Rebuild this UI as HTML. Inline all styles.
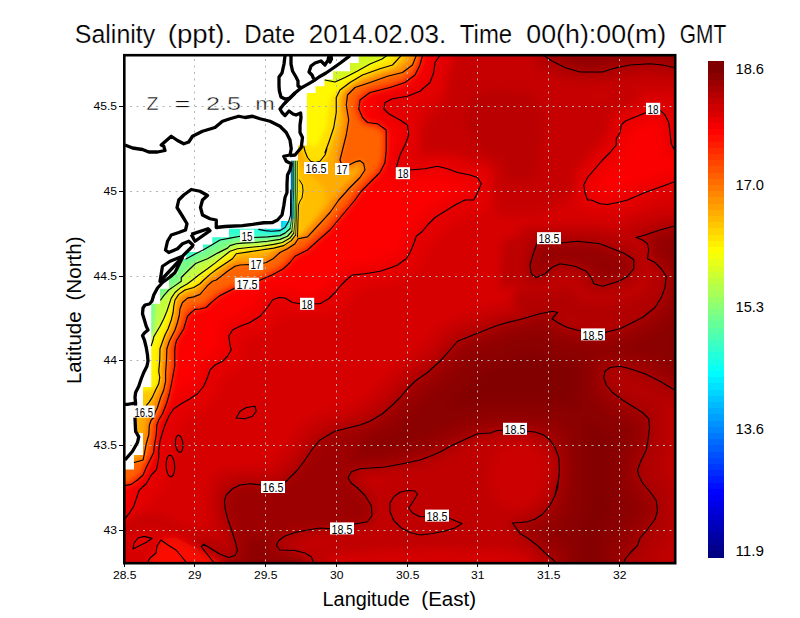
<!DOCTYPE html><html><head><meta charset="utf-8"><title>Salinity</title>
<style>html,body{margin:0;padding:0;background:#fff;overflow:hidden}svg{display:block}text{font-family:"Liberation Sans",sans-serif}</style></head><body>
<svg width="800" height="618" viewBox="0 0 800 618">
<defs>
<clipPath id="plot"><rect x="125.0" y="56.0" width="549.0" height="506.0"/></clipPath>
<filter id="b8" filterUnits="userSpaceOnUse" x="-60" y="-60" width="920" height="760"><feGaussianBlur stdDeviation="8"/></filter>
<filter id="b5" filterUnits="userSpaceOnUse" x="-60" y="-60" width="920" height="760"><feGaussianBlur stdDeviation="5"/></filter>
<filter id="b3" filterUnits="userSpaceOnUse" x="-60" y="-60" width="920" height="760"><feGaussianBlur stdDeviation="3"/></filter>
<filter id="b2" filterUnits="userSpaceOnUse" x="-60" y="-60" width="920" height="760"><feGaussianBlur stdDeviation="2.0"/></filter>
<filter id="b15" filterUnits="userSpaceOnUse" x="-60" y="-60" width="920" height="760"><feGaussianBlur stdDeviation="1.5"/></filter>
<filter id="b1" filterUnits="userSpaceOnUse" x="-60" y="-60" width="920" height="760"><feGaussianBlur stdDeviation="0.8"/></filter>
<filter id="ero3" filterUnits="userSpaceOnUse" x="-60" y="-60" width="920" height="760"><feMorphology operator="erode" radius="3"/></filter>
<filter id="dil3" filterUnits="userSpaceOnUse" x="-60" y="-60" width="920" height="760"><feMorphology operator="dilate" radius="3"/></filter>
<filter id="ero4" filterUnits="userSpaceOnUse" x="-60" y="-60" width="920" height="760"><feMorphology operator="erode" radius="4"/></filter>
<filter id="dil4" filterUnits="userSpaceOnUse" x="-60" y="-60" width="920" height="760"><feMorphology operator="dilate" radius="4"/></filter>
<filter id="ero5" filterUnits="userSpaceOnUse" x="-60" y="-60" width="920" height="760"><feMorphology operator="erode" radius="5"/></filter>
<filter id="dil5" filterUnits="userSpaceOnUse" x="-60" y="-60" width="920" height="760"><feMorphology operator="dilate" radius="5"/></filter>
<filter id="ero6" filterUnits="userSpaceOnUse" x="-60" y="-60" width="920" height="760"><feMorphology operator="erode" radius="6"/></filter>
<filter id="dil6" filterUnits="userSpaceOnUse" x="-60" y="-60" width="920" height="760"><feMorphology operator="dilate" radius="6"/></filter>
<filter id="ero7" filterUnits="userSpaceOnUse" x="-60" y="-60" width="920" height="760"><feMorphology operator="erode" radius="7"/></filter>
<filter id="dil7" filterUnits="userSpaceOnUse" x="-60" y="-60" width="920" height="760"><feMorphology operator="dilate" radius="7"/></filter>
<filter id="ero8" filterUnits="userSpaceOnUse" x="-60" y="-60" width="920" height="760"><feMorphology operator="erode" radius="8"/></filter>
<filter id="dil8" filterUnits="userSpaceOnUse" x="-60" y="-60" width="920" height="760"><feMorphology operator="dilate" radius="8"/></filter>
<filter id="ero9" filterUnits="userSpaceOnUse" x="-60" y="-60" width="920" height="760"><feMorphology operator="erode" radius="9"/></filter>
<filter id="dil9" filterUnits="userSpaceOnUse" x="-60" y="-60" width="920" height="760"><feMorphology operator="dilate" radius="9"/></filter>
<filter id="ero12" filterUnits="userSpaceOnUse" x="-60" y="-60" width="920" height="760"><feMorphology operator="erode" radius="12"/></filter>
<filter id="dil12" filterUnits="userSpaceOnUse" x="-60" y="-60" width="920" height="760"><feMorphology operator="dilate" radius="12"/></filter>
<filter id="ero14" filterUnits="userSpaceOnUse" x="-60" y="-60" width="920" height="760"><feMorphology operator="erode" radius="14"/></filter>
<filter id="dil14" filterUnits="userSpaceOnUse" x="-60" y="-60" width="920" height="760"><feMorphology operator="dilate" radius="14"/></filter>
<filter id="ero16" filterUnits="userSpaceOnUse" x="-60" y="-60" width="920" height="760"><feMorphology operator="erode" radius="16"/></filter>
<filter id="dil16" filterUnits="userSpaceOnUse" x="-60" y="-60" width="920" height="760"><feMorphology operator="dilate" radius="16"/></filter>
<filter id="ero20" filterUnits="userSpaceOnUse" x="-60" y="-60" width="920" height="760"><feMorphology operator="erode" radius="20"/></filter>
<filter id="dil20" filterUnits="userSpaceOnUse" x="-60" y="-60" width="920" height="760"><feMorphology operator="dilate" radius="20"/></filter>
<filter id="ero22" filterUnits="userSpaceOnUse" x="-60" y="-60" width="920" height="760"><feMorphology operator="erode" radius="22"/></filter>
<filter id="dil22" filterUnits="userSpaceOnUse" x="-60" y="-60" width="920" height="760"><feMorphology operator="dilate" radius="22"/></filter>
<filter id="ero28" filterUnits="userSpaceOnUse" x="-60" y="-60" width="920" height="760"><feMorphology operator="erode" radius="28"/></filter>
<filter id="dil28" filterUnits="userSpaceOnUse" x="-60" y="-60" width="920" height="760"><feMorphology operator="dilate" radius="28"/></filter>
<filter id="ero34" filterUnits="userSpaceOnUse" x="-60" y="-60" width="920" height="760"><feMorphology operator="erode" radius="34"/></filter>
<filter id="dil34" filterUnits="userSpaceOnUse" x="-60" y="-60" width="920" height="760"><feMorphology operator="dilate" radius="34"/></filter>
</defs>
<rect width="800" height="618" fill="#fff"/>
<g clip-path="url(#plot)">
<g filter="url(#b5)">
<rect x="-50" y="-50" width="900" height="740" fill="rgb(214,0,0)"/>
<polygon points="450,-30 450,56 445,100 420,130 395,150 400,165 440,168 480,175 490,195 500,215 540,215 575,195 590,170 610,140 625,118 640,100 640,90 600,95 560,90 530,72 520,56 520,-30" fill="rgb(198,0,0)" />
<polygon points="470,95 500,88 535,95 545,120 540,150 535,178 510,182 500,160 480,150 465,125" fill="rgb(186,0,0)" />
<polygon points="673.75,226.25 660,230 645,235 636.25,237.5 642.5,240 647.5,243.75 648.75,250 647.5,258.75 655,262.5 661.25,268.75 666.25,276.25 665,287.5 661.25,297.5 655,307.5 642.5,317.5 630,323.75 620,328.75 605,332.5 592.5,333.75 581.25,331.25 567.5,327.5 557.5,322.5 552,318.75 557.5,312.5 552.5,311.25 540,313.75 520,319.5 507.5,322.5 495,326.25 482.5,331.25 470,336.25 457.5,341.25 450,350 440,361.25 427.5,372.5 415,381.25 407.5,388.75 400,397.5 392.5,405 382.5,413.75 370,421.25 360,425 345,428.75 335,431.25 326.25,436.25 320,440 312.5,448.75 305,460 297.5,470 290,477.5 285,482.5 272.5,485.5 261.25,485 250,483.75 240,485 232.5,488.75 226.25,495 224.5,500.5 225,508 227.5,518 231.25,529.25 235,540.5 237.5,550.5 235,555.5 228.75,557.5 220,554.25 210,548 203.75,544.25 201.25,546.75 206.25,553 211.25,559.25 214.5,563.5 214.5,660 313.75,660 313.75,563.5 311.25,556.75 305,553 295,550.5 280,550 276.25,545.5 278.75,540.5 285,536 295,532.5 307.5,530 320,528 330,528.75 342,527.5 353.75,524.25 367.5,521.75 372,515.5 371.25,505.5 365,495.5 357.5,488 351.25,483 348,478 351.25,471.75 360,468.75 370,468 385,467 402.5,463.75 420,460 430,456.25 440,452 450,446.25 462.5,440.5 477.5,433.75 490,433 497.5,430.5 510,430 527,431.25 535,432 543.75,435 550,440 555,447.5 558.75,457.5 559.5,470 558,485 555,495 558.75,478 557.5,488 555,495.5 550,505.5 542.5,514.25 535,519.25 527.5,521.75 520,522.5 512.5,523 520,533.5 527.5,538 537.5,545.5 545,553 552.5,559.25 557,563.5 557,660 623.75,660 623.75,563.5 625,559.25 630,553 637.5,545.5 640,538 647.5,529.25 655,519.25 657.5,510.5 656.25,500.5 650,491.75 642.5,483 638.75,475.5 637.5,470 641.25,460 646.25,450 648,440 649.5,427.5 648.75,418.75 642.5,412.5 632.5,406.25 622.5,400 612.5,392.5 606.25,385 603.75,377.5 605,371.25 610,367.5 620,366.25 630,368.75 645,373.75 660,381.25 673.75,389.5 760,389.5 760,226" fill="rgb(200,0,0)" filter="url(#dil16)"/>
<polygon points="673.75,226.25 660,230 645,235 636.25,237.5 642.5,240 647.5,243.75 648.75,250 647.5,258.75 655,262.5 661.25,268.75 666.25,276.25 665,287.5 661.25,297.5 655,307.5 642.5,317.5 630,323.75 620,328.75 605,332.5 592.5,333.75 581.25,331.25 567.5,327.5 557.5,322.5 552,318.75 557.5,312.5 552.5,311.25 540,313.75 520,319.5 507.5,322.5 495,326.25 482.5,331.25 470,336.25 457.5,341.25 450,350 440,361.25 427.5,372.5 415,381.25 407.5,388.75 400,397.5 392.5,405 382.5,413.75 370,421.25 360,425 345,428.75 335,431.25 326.25,436.25 320,440 312.5,448.75 305,460 297.5,470 290,477.5 285,482.5 272.5,485.5 261.25,485 250,483.75 240,485 232.5,488.75 226.25,495 224.5,500.5 225,508 227.5,518 231.25,529.25 235,540.5 237.5,550.5 235,555.5 228.75,557.5 220,554.25 210,548 203.75,544.25 201.25,546.75 206.25,553 211.25,559.25 214.5,563.5 214.5,660 313.75,660 313.75,563.5 311.25,556.75 305,553 295,550.5 280,550 276.25,545.5 278.75,540.5 285,536 295,532.5 307.5,530 320,528 330,528.75 342,527.5 353.75,524.25 367.5,521.75 372,515.5 371.25,505.5 365,495.5 357.5,488 351.25,483 348,478 351.25,471.75 360,468.75 370,468 385,467 402.5,463.75 420,460 430,456.25 440,452 450,446.25 462.5,440.5 477.5,433.75 490,433 497.5,430.5 510,430 527,431.25 535,432 543.75,435 550,440 555,447.5 558.75,457.5 559.5,470 558,485 555,495 558.75,478 557.5,488 555,495.5 550,505.5 542.5,514.25 535,519.25 527.5,521.75 520,522.5 512.5,523 520,533.5 527.5,538 537.5,545.5 545,553 552.5,559.25 557,563.5 557,660 623.75,660 623.75,563.5 625,559.25 630,553 637.5,545.5 640,538 647.5,529.25 655,519.25 657.5,510.5 656.25,500.5 650,491.75 642.5,483 638.75,475.5 637.5,470 641.25,460 646.25,450 648,440 649.5,427.5 648.75,418.75 642.5,412.5 632.5,406.25 622.5,400 612.5,392.5 606.25,385 603.75,377.5 605,371.25 610,367.5 620,366.25 630,368.75 645,373.75 660,381.25 673.75,389.5 760,389.5 760,226" fill="rgb(182,0,0)" filter="url(#dil7)"/>
<polygon points="673.75,226.25 660,230 645,235 636.25,237.5 642.5,240 647.5,243.75 648.75,250 647.5,258.75 655,262.5 661.25,268.75 666.25,276.25 665,287.5 661.25,297.5 655,307.5 642.5,317.5 630,323.75 620,328.75 605,332.5 592.5,333.75 581.25,331.25 567.5,327.5 557.5,322.5 552,318.75 557.5,312.5 552.5,311.25 540,313.75 520,319.5 507.5,322.5 495,326.25 482.5,331.25 470,336.25 457.5,341.25 450,350 440,361.25 427.5,372.5 415,381.25 407.5,388.75 400,397.5 392.5,405 382.5,413.75 370,421.25 360,425 345,428.75 335,431.25 326.25,436.25 320,440 312.5,448.75 305,460 297.5,470 290,477.5 285,482.5 272.5,485.5 261.25,485 250,483.75 240,485 232.5,488.75 226.25,495 224.5,500.5 225,508 227.5,518 231.25,529.25 235,540.5 237.5,550.5 235,555.5 228.75,557.5 220,554.25 210,548 203.75,544.25 201.25,546.75 206.25,553 211.25,559.25 214.5,563.5 214.5,660 313.75,660 313.75,563.5 311.25,556.75 305,553 295,550.5 280,550 276.25,545.5 278.75,540.5 285,536 295,532.5 307.5,530 320,528 330,528.75 342,527.5 353.75,524.25 367.5,521.75 372,515.5 371.25,505.5 365,495.5 357.5,488 351.25,483 348,478 351.25,471.75 360,468.75 370,468 385,467 402.5,463.75 420,460 430,456.25 440,452 450,446.25 462.5,440.5 477.5,433.75 490,433 497.5,430.5 510,430 527,431.25 535,432 543.75,435 550,440 555,447.5 558.75,457.5 559.5,470 558,485 555,495 558.75,478 557.5,488 555,495.5 550,505.5 542.5,514.25 535,519.25 527.5,521.75 520,522.5 512.5,523 520,533.5 527.5,538 537.5,545.5 545,553 552.5,559.25 557,563.5 557,660 623.75,660 623.75,563.5 625,559.25 630,553 637.5,545.5 640,538 647.5,529.25 655,519.25 657.5,510.5 656.25,500.5 650,491.75 642.5,483 638.75,475.5 637.5,470 641.25,460 646.25,450 648,440 649.5,427.5 648.75,418.75 642.5,412.5 632.5,406.25 622.5,400 612.5,392.5 606.25,385 603.75,377.5 605,371.25 610,367.5 620,366.25 630,368.75 645,373.75 660,381.25 673.75,389.5 760,389.5 760,226" fill="rgb(160,0,0)" />
<polygon points="673.75,226.25 660,230 645,235 636.25,237.5 642.5,240 647.5,243.75 648.75,250 647.5,258.75 655,262.5 661.25,268.75 666.25,276.25 665,287.5 661.25,297.5 655,307.5 642.5,317.5 630,323.75 620,328.75 605,332.5 592.5,333.75 581.25,331.25 567.5,327.5 557.5,322.5 552,318.75 557.5,312.5 552.5,311.25 540,313.75 520,319.5 507.5,322.5 495,326.25 482.5,331.25 470,336.25 457.5,341.25 450,350 440,361.25 427.5,372.5 415,381.25 407.5,388.75 400,397.5 392.5,405 382.5,413.75 370,421.25 360,425 345,428.75 335,431.25 326.25,436.25 320,440 312.5,448.75 305,460 297.5,470 290,477.5 285,482.5 272.5,485.5 261.25,485 250,483.75 240,485 232.5,488.75 226.25,495 224.5,500.5 225,508 227.5,518 231.25,529.25 235,540.5 237.5,550.5 235,555.5 228.75,557.5 220,554.25 210,548 203.75,544.25 201.25,546.75 206.25,553 211.25,559.25 214.5,563.5 214.5,660 313.75,660 313.75,563.5 311.25,556.75 305,553 295,550.5 280,550 276.25,545.5 278.75,540.5 285,536 295,532.5 307.5,530 320,528 330,528.75 342,527.5 353.75,524.25 367.5,521.75 372,515.5 371.25,505.5 365,495.5 357.5,488 351.25,483 348,478 351.25,471.75 360,468.75 370,468 385,467 402.5,463.75 420,460 430,456.25 440,452 450,446.25 462.5,440.5 477.5,433.75 490,433 497.5,430.5 510,430 527,431.25 535,432 543.75,435 550,440 555,447.5 558.75,457.5 559.5,470 558,485 555,495 558.75,478 557.5,488 555,495.5 550,505.5 542.5,514.25 535,519.25 527.5,521.75 520,522.5 512.5,523 520,533.5 527.5,538 537.5,545.5 545,553 552.5,559.25 557,563.5 557,660 623.75,660 623.75,563.5 625,559.25 630,553 637.5,545.5 640,538 647.5,529.25 655,519.25 657.5,510.5 656.25,500.5 650,491.75 642.5,483 638.75,475.5 637.5,470 641.25,460 646.25,450 648,440 649.5,427.5 648.75,418.75 642.5,412.5 632.5,406.25 622.5,400 612.5,392.5 606.25,385 603.75,377.5 605,371.25 610,367.5 620,366.25 630,368.75 645,373.75 660,381.25 673.75,389.5 760,389.5 760,226" fill="rgb(148,0,0)" filter="url(#ero6)"/>
<polygon points="673.75,226.25 660,230 645,235 636.25,237.5 642.5,240 647.5,243.75 648.75,250 647.5,258.75 655,262.5 661.25,268.75 666.25,276.25 665,287.5 661.25,297.5 655,307.5 642.5,317.5 630,323.75 620,328.75 605,332.5 592.5,333.75 581.25,331.25 567.5,327.5 557.5,322.5 552,318.75 557.5,312.5 552.5,311.25 540,313.75 520,319.5 507.5,322.5 495,326.25 482.5,331.25 470,336.25 457.5,341.25 450,350 440,361.25 427.5,372.5 415,381.25 407.5,388.75 400,397.5 392.5,405 382.5,413.75 370,421.25 360,425 345,428.75 335,431.25 326.25,436.25 320,440 312.5,448.75 305,460 297.5,470 290,477.5 285,482.5 272.5,485.5 261.25,485 250,483.75 240,485 232.5,488.75 226.25,495 224.5,500.5 225,508 227.5,518 231.25,529.25 235,540.5 237.5,550.5 235,555.5 228.75,557.5 220,554.25 210,548 203.75,544.25 201.25,546.75 206.25,553 211.25,559.25 214.5,563.5 214.5,660 313.75,660 313.75,563.5 311.25,556.75 305,553 295,550.5 280,550 276.25,545.5 278.75,540.5 285,536 295,532.5 307.5,530 320,528 330,528.75 342,527.5 353.75,524.25 367.5,521.75 372,515.5 371.25,505.5 365,495.5 357.5,488 351.25,483 348,478 351.25,471.75 360,468.75 370,468 385,467 402.5,463.75 420,460 430,456.25 440,452 450,446.25 462.5,440.5 477.5,433.75 490,433 497.5,430.5 510,430 527,431.25 535,432 543.75,435 550,440 555,447.5 558.75,457.5 559.5,470 558,485 555,495 558.75,478 557.5,488 555,495.5 550,505.5 542.5,514.25 535,519.25 527.5,521.75 520,522.5 512.5,523 520,533.5 527.5,538 537.5,545.5 545,553 552.5,559.25 557,563.5 557,660 623.75,660 623.75,563.5 625,559.25 630,553 637.5,545.5 640,538 647.5,529.25 655,519.25 657.5,510.5 656.25,500.5 650,491.75 642.5,483 638.75,475.5 637.5,470 641.25,460 646.25,450 648,440 649.5,427.5 648.75,418.75 642.5,412.5 632.5,406.25 622.5,400 612.5,392.5 606.25,385 603.75,377.5 605,371.25 610,367.5 620,366.25 630,368.75 645,373.75 660,381.25 673.75,389.5 760,389.5 760,226" fill="rgb(139,0,0)" filter="url(#ero14)"/>
<polygon points="673.75,226.25 660,230 645,235 636.25,237.5 642.5,240 647.5,243.75 648.75,250 647.5,258.75 655,262.5 661.25,268.75 666.25,276.25 665,287.5 661.25,297.5 655,307.5 642.5,317.5 630,323.75 620,328.75 605,332.5 592.5,333.75 581.25,331.25 567.5,327.5 557.5,322.5 552,318.75 557.5,312.5 552.5,311.25 540,313.75 520,319.5 507.5,322.5 495,326.25 482.5,331.25 470,336.25 457.5,341.25 450,350 440,361.25 427.5,372.5 415,381.25 407.5,388.75 400,397.5 392.5,405 382.5,413.75 370,421.25 360,425 345,428.75 335,431.25 326.25,436.25 320,440 312.5,448.75 305,460 297.5,470 290,477.5 285,482.5 272.5,485.5 261.25,485 250,483.75 240,485 232.5,488.75 226.25,495 224.5,500.5 225,508 227.5,518 231.25,529.25 235,540.5 237.5,550.5 235,555.5 228.75,557.5 220,554.25 210,548 203.75,544.25 201.25,546.75 206.25,553 211.25,559.25 214.5,563.5 214.5,660 313.75,660 313.75,563.5 311.25,556.75 305,553 295,550.5 280,550 276.25,545.5 278.75,540.5 285,536 295,532.5 307.5,530 320,528 330,528.75 342,527.5 353.75,524.25 367.5,521.75 372,515.5 371.25,505.5 365,495.5 357.5,488 351.25,483 348,478 351.25,471.75 360,468.75 370,468 385,467 402.5,463.75 420,460 430,456.25 440,452 450,446.25 462.5,440.5 477.5,433.75 490,433 497.5,430.5 510,430 527,431.25 535,432 543.75,435 550,440 555,447.5 558.75,457.5 559.5,470 558,485 555,495 558.75,478 557.5,488 555,495.5 550,505.5 542.5,514.25 535,519.25 527.5,521.75 520,522.5 512.5,523 520,533.5 527.5,538 537.5,545.5 545,553 552.5,559.25 557,563.5 557,660 623.75,660 623.75,563.5 625,559.25 630,553 637.5,545.5 640,538 647.5,529.25 655,519.25 657.5,510.5 656.25,500.5 650,491.75 642.5,483 638.75,475.5 637.5,470 641.25,460 646.25,450 648,440 649.5,427.5 648.75,418.75 642.5,412.5 632.5,406.25 622.5,400 612.5,392.5 606.25,385 603.75,377.5 605,371.25 610,367.5 620,366.25 630,368.75 645,373.75 660,381.25 673.75,389.5 760,389.5 760,226" fill="rgb(131,0,0)" filter="url(#ero28)"/>
<polygon points="370,425 340,436 322,448 305,466 292,481 262,491 240,493 232,501 234,520 240,540 262,540 290,528 320,522 345,518 362,512 362,500 352,485 346,472 352,455 365,440" fill="rgb(157,0,0)" />
<polygon points="522,278 540,290 560,276 590,288 606,292 626,282 638,264 650,270 659,286 654,305 640,318 615,327 585,327 560,317 545,311 525,315 512,300" fill="rgb(178,0,0)" />
<polygon points="503,242 532,230 528,262 516,284 500,290" fill="rgb(186,0,0)" />
<polygon points="537,243 548.75,241.25 560.5,243 577.5,241.25 600,243.75 612.5,248.75 625,253.75 633.75,259.5 633.75,268.75 627.5,276.25 618.75,281.25 602.5,286.25 593.75,283.75 591.25,277.5 586.25,271.25 575,266.25 560,263.75 552.5,267 545,273.75 536.25,277.5 531.25,273.75 530,265 532.5,256.25" fill="rgb(192,0,0)" filter="url(#dil16)"/>
<polygon points="537,243 548.75,241.25 560.5,243 577.5,241.25 600,243.75 612.5,248.75 625,253.75 633.75,259.5 633.75,268.75 627.5,276.25 618.75,281.25 602.5,286.25 593.75,283.75 591.25,277.5 586.25,271.25 575,266.25 560,263.75 552.5,267 545,273.75 536.25,277.5 531.25,273.75 530,265 532.5,256.25" fill="rgb(176,0,0)" filter="url(#dil7)"/>
<polygon points="537,243 548.75,241.25 560.5,243 577.5,241.25 600,243.75 612.5,248.75 625,253.75 633.75,259.5 633.75,268.75 627.5,276.25 618.75,281.25 602.5,286.25 593.75,283.75 591.25,277.5 586.25,271.25 575,266.25 560,263.75 552.5,267 545,273.75 536.25,277.5 531.25,273.75 530,265 532.5,256.25" fill="rgb(160,0,0)" />
<polygon points="537,243 548.75,241.25 560.5,243 577.5,241.25 600,243.75 612.5,248.75 625,253.75 633.75,259.5 633.75,268.75 627.5,276.25 618.75,281.25 602.5,286.25 593.75,283.75 591.25,277.5 586.25,271.25 575,266.25 560,263.75 552.5,267 545,273.75 536.25,277.5 531.25,273.75 530,265 532.5,256.25" fill="rgb(148,0,0)" filter="url(#ero5)"/>
<polygon points="545,56.25 552.5,61.25 565,67.5 580,72 602.5,72 615,68 630,65 650,63.75 662.5,65 673.75,67.5 760,67.5 760,-30 545,-30" fill="rgb(198,0,0)" filter="url(#dil22)"/>
<polygon points="545,56.25 552.5,61.25 565,67.5 580,72 602.5,72 615,68 630,65 650,63.75 662.5,65 673.75,67.5 760,67.5 760,-30 545,-30" fill="rgb(180,0,0)" filter="url(#dil9)"/>
<polygon points="545,56.25 552.5,61.25 565,67.5 580,72 602.5,72 615,68 630,65 650,63.75 662.5,65 673.75,67.5 760,67.5 760,-30 545,-30" fill="rgb(160,0,0)" />
<polygon points="545,56.25 552.5,61.25 565,67.5 580,72 602.5,72 615,68 630,65 650,63.75 662.5,65 673.75,67.5 760,67.5 760,-30 545,-30" fill="rgb(145,0,0)" filter="url(#ero6)"/>
<polygon points="407.5,490.5 415,491 417.5,494.25 413.75,500.5 408.75,508 412.5,513 420,516.75 425,516.75 448.75,518 457.5,521.75 462,523.5 455,528 445,531 432.5,533.5 420,535 410,532.5 401.25,528 393.75,520.5 390,511.75 390,503 393.75,496.75 400,492.25" fill="rgb(182,0,0)" filter="url(#dil6)"/>
<polygon points="407.5,490.5 415,491 417.5,494.25 413.75,500.5 408.75,508 412.5,513 420,516.75 425,516.75 448.75,518 457.5,521.75 462,523.5 455,528 445,531 432.5,533.5 420,535 410,532.5 401.25,528 393.75,520.5 390,511.75 390,503 393.75,496.75 400,492.25" fill="rgb(168,0,0)" />
<polygon points="407.5,490.5 415,491 417.5,494.25 413.75,500.5 408.75,508 412.5,513 420,516.75 425,516.75 448.75,518 457.5,521.75 462,523.5 455,528 445,531 432.5,533.5 420,535 410,532.5 401.25,528 393.75,520.5 390,511.75 390,503 393.75,496.75 400,492.25" fill="rgb(158,0,0)" filter="url(#ero5)"/>
<polygon points="310,660 310,563 300,555 290,547 300,540 310,545 330,540 360,536 378,532 385,520 380,505 375,490 385,480 400,475 420,470 440,462 460,455 480,446 500,442 520,440 535,440 545,450 550,470 548,490 540,505 520,515 505,525 512,535 530,550 540,563 540,660" fill="rgb(192,0,0)" />
<polygon points="505,445 530,443 543,455 546,475 540,498 520,510 498,505 490,485 492,460" fill="rgb(204,0,0)" />
<polygon points="330,660 330,556 380,550 440,548 500,550 530,556 535,660" fill="rgb(212,0,0)" />
<polygon points="623.75,563.5 625,559.25 630,553 637.5,545.5 640,538 647.5,529.25 655,519.25 657.5,510.5 656.25,500.5 650,491.75 642.5,483 638.75,475.5 637.5,470 641.25,460 646.25,450 648,440 649.5,427.5 648.75,418.75 642.5,412.5 632.5,406.25 622.5,400 612.5,392.5 606.25,385 603.75,377.5 605,371.25 610,367.5 620,366.25 630,368.75 645,373.75 660,381.25 673.75,389.5 760,389.5 760,660 623.75,660" fill="rgb(172,0,0)" />
<polygon points="623.75,563.5 625,559.25 630,553 637.5,545.5 640,538 647.5,529.25 655,519.25 657.5,510.5 656.25,500.5 650,491.75 642.5,483 638.75,475.5 637.5,470 641.25,460 646.25,450 648,440 649.5,427.5 648.75,418.75 642.5,412.5 632.5,406.25 622.5,400 612.5,392.5 606.25,385 603.75,377.5 605,371.25 610,367.5 620,366.25 630,368.75 645,373.75 660,381.25 673.75,389.5 760,389.5 760,660 623.75,660" fill="rgb(180,0,0)" filter="url(#ero7)"/>
<polygon points="623.75,563.5 625,559.25 630,553 637.5,545.5 640,538 647.5,529.25 655,519.25 657.5,510.5 656.25,500.5 650,491.75 642.5,483 638.75,475.5 637.5,470 641.25,460 646.25,450 648,440 649.5,427.5 648.75,418.75 642.5,412.5 632.5,406.25 622.5,400 612.5,392.5 606.25,385 603.75,377.5 605,371.25 610,367.5 620,366.25 630,368.75 645,373.75 660,381.25 673.75,389.5 760,389.5 760,660 623.75,660" fill="rgb(190,0,0)" filter="url(#ero16)"/>
<polygon points="440,55.5 435,62.5 433.75,72.5 430,82.5 420,91.25 407.5,96.25 392.5,98.75 385,102.5 383.75,108.75 388.75,113.75 400,120 407.5,125 408.75,135 405,145 400,155 396.25,167.5 402.5,172.5 409.5,170 425,168.75 437.5,166.25 447.5,168.75 457.5,172.5 470,175 477.5,177.5 481.25,183.75 477.5,192.5 473.75,200 465,200 455,205 445,211.25 435,217.5 427.5,225 422.5,231.25 416.25,236.25 413.75,243.75 410,252.5 406.25,258.75 397.5,265 390,268 380,271.25 365,273.75 352.5,275 346.25,280 341.25,285 335,292.5 328.75,298.75 320,303.75 307.5,303.75 300.5,303.75 292.5,302.5 285,298 278.75,297.5 272.5,300 267.5,307.5 260,316.25 250,322.5 240,326.25 232.5,330 228.75,336.25 230,345 231.25,350 227.5,356.25 222.5,361.25 215,365 210,370 207.5,377.5 203.75,386.25 197.5,393.75 190,398.75 181.25,403.75 173.75,408.75 168.75,416.25 165,425 162.5,432.5 160,441.25 158.75,450 158.75,457.5 157.5,465 156.25,470 151.25,475 146.25,483.75 139.38,490 136.25,498.75 133.75,506.25 129.38,513.12 125,518.75 40,518.75 40,-30 440,-30" fill="rgb(226,0,0)" filter="url(#dil12)"/>
<polygon points="440,55.5 435,62.5 433.75,72.5 430,82.5 420,91.25 407.5,96.25 392.5,98.75 385,102.5 383.75,108.75 388.75,113.75 400,120 407.5,125 408.75,135 405,145 400,155 396.25,167.5 402.5,172.5 409.5,170 425,168.75 437.5,166.25 447.5,168.75 457.5,172.5 470,175 477.5,177.5 481.25,183.75 477.5,192.5 473.75,200 465,200 455,205 445,211.25 435,217.5 427.5,225 422.5,231.25 416.25,236.25 413.75,243.75 410,252.5 406.25,258.75 397.5,265 390,268 380,271.25 365,273.75 352.5,275 346.25,280 341.25,285 335,292.5 328.75,298.75 320,303.75 307.5,303.75 300.5,303.75 292.5,302.5 285,298 278.75,297.5 272.5,300 267.5,307.5 260,316.25 250,322.5 240,326.25 232.5,330 228.75,336.25 230,345 231.25,350 227.5,356.25 222.5,361.25 215,365 210,370 207.5,377.5 203.75,386.25 197.5,393.75 190,398.75 181.25,403.75 173.75,408.75 168.75,416.25 165,425 162.5,432.5 160,441.25 158.75,450 158.75,457.5 157.5,465 156.25,470 151.25,475 146.25,483.75 139.38,490 136.25,498.75 133.75,506.25 129.38,513.12 125,518.75 40,518.75 40,-30 440,-30" fill="rgb(240,0,0)" />
<polygon points="440,55.5 435,62.5 433.75,72.5 430,82.5 420,91.25 407.5,96.25 392.5,98.75 385,102.5 383.75,108.75 388.75,113.75 400,120 407.5,125 408.75,135 405,145 400,155 396.25,167.5 402.5,172.5 409.5,170 425,168.75 437.5,166.25 447.5,168.75 457.5,172.5 470,175 477.5,177.5 481.25,183.75 477.5,192.5 473.75,200 465,200 455,205 445,211.25 435,217.5 427.5,225 422.5,231.25 416.25,236.25 413.75,243.75 410,252.5 406.25,258.75 397.5,265 390,268 380,271.25 365,273.75 352.5,275 346.25,280 341.25,285 335,292.5 328.75,298.75 320,303.75 307.5,303.75 300.5,303.75 292.5,302.5 285,298 278.75,297.5 272.5,300 267.5,307.5 260,316.25 250,322.5 240,326.25 232.5,330 228.75,336.25 230,345 231.25,350 227.5,356.25 222.5,361.25 215,365 210,370 207.5,377.5 203.75,386.25 197.5,393.75 190,398.75 181.25,403.75 173.75,408.75 168.75,416.25 165,425 162.5,432.5 160,441.25 158.75,450 158.75,457.5 157.5,465 156.25,470 151.25,475 146.25,483.75 139.38,490 136.25,498.75 133.75,506.25 129.38,513.12 125,518.75 40,518.75 40,-30 440,-30" fill="rgb(252,4,0)" filter="url(#ero9)"/>
<polygon points="673.75,148.75 671.25,143.75 670,132.5 668.75,122.5 665,115 660,110 652.5,108.75 646.25,112.5 635,117 625,121.25 621.25,125 620,132.5 616.25,138.75 616.25,145 610,152.5 602.5,160 595,168.75 587.5,177.5 583.75,185 585,192.5 587.5,200 591.25,200 600,203.75 607.5,204.5 620,202 627.5,200 645,192.5 662.5,186.25 673.75,182 760,182 760,148.75" fill="rgb(224,0,0)" filter="url(#dil9)"/>
<polygon points="673.75,148.75 671.25,143.75 670,132.5 668.75,122.5 665,115 660,110 652.5,108.75 646.25,112.5 635,117 625,121.25 621.25,125 620,132.5 616.25,138.75 616.25,145 610,152.5 602.5,160 595,168.75 587.5,177.5 583.75,185 585,192.5 587.5,200 591.25,200 600,203.75 607.5,204.5 620,202 627.5,200 645,192.5 662.5,186.25 673.75,182 760,182 760,148.75" fill="rgb(238,0,0)" />
<polygon points="673.75,148.75 671.25,143.75 670,132.5 668.75,122.5 665,115 660,110 652.5,108.75 646.25,112.5 635,117 625,121.25 621.25,125 620,132.5 616.25,138.75 616.25,145 610,152.5 602.5,160 595,168.75 587.5,177.5 583.75,185 585,192.5 587.5,200 591.25,200 600,203.75 607.5,204.5 620,202 627.5,200 645,192.5 662.5,186.25 673.75,182 760,182 760,148.75" fill="rgb(250,0,0)" filter="url(#ero8)"/>
<polygon points="133,549 134,543 138,538 144,536.4 152,538.4 146,542.4 139,546" fill="rgb(248,5,0)" />
<polygon points="147,563.5 150,558 156,553 157,546 161,540 168,545 176,550 182,557 187,563.5 188,660 147,660" fill="rgb(250,10,0)" />
<polygon points="160,540 175,537 200,550 222,563 230,575 205,575 185,560" fill="rgb(250,12,0)" />
<polygon points="110,524 124,522 140,512 160,514 180,524 194,536 196,548 186,542 170,532 156,528 140,530 128,536 110,542" fill="rgb(200,0,0)" />
</g>
<g filter="url(#b3)">
<polygon points="422.5,55.5 420,65 415,75 405,82.5 390,87.5 370,92.5 360,100 358.75,108.75 362.5,117.5 367.5,122.5 377.5,123.75 386.25,130 386.25,150 385,162.5 380,172.5 370,182.5 361.25,191.25 355,200 330,230 320,238.75 307.5,250 295,256.25 290,262.5 287.5,265 283,269 272,275 258,281 247,285 235,288 220,295.62 215,299.38 210,303.75 206.25,307.5 200,309 195,309.38 191.25,312.5 187.5,316.25 185.62,322.5 183.75,328.75 180,335 176.88,340 175.62,343.75 174.75,350 174.75,366.25 173.12,375 171.25,385 169.38,393.75 166.88,402.5 165,407.5 162.5,413.75 158.75,420 156.88,425 156.25,435 154.38,445 153.75,452.5 150,460 146.25,467.5 143.12,475 137.5,480 131.25,484.38 125,485.62 40,485.6 40,-30 422,-30" fill="rgb(255,55,0)" />
<polygon points="422.5,55.5 420,65 415,75 405,82.5 390,87.5 370,92.5 360,100 358.75,108.75 362.5,117.5 367.5,122.5 377.5,123.75 386.25,130 386.25,150 385,162.5 380,172.5 370,182.5 361.25,191.25 355,200 330,230 320,238.75 307.5,250 295,256.25 290,262.5 287.5,265 283,269 272,275 258,281 247,285 235,288 220,295.62 215,299.38 210,303.75 206.25,307.5 200,309 195,309.38 191.25,312.5 187.5,316.25 185.62,322.5 183.75,328.75 180,335 176.88,340 175.62,343.75 174.75,350 174.75,366.25 173.12,375 171.25,385 169.38,393.75 166.88,402.5 165,407.5 162.5,413.75 158.75,420 156.88,425 156.25,435 154.38,445 153.75,452.5 150,460 146.25,467.5 143.12,475 137.5,480 131.25,484.38 125,485.62 40,485.6 40,-30 422,-30" fill="rgb(255,100,0)" filter="url(#ero3)"/>
</g>
<g filter="url(#b2)">
<polygon points="416.25,55.5 412.5,65 402.5,72.5 387.5,76.25 370,82.5 355,87.5 347.5,95 346.25,105 348.75,120 346.25,135 342.5,150 340,160 343,168 349,165 355,161.9 360,160.6 363.75,163.75 365,170 360,177.5 350,187.5 338.75,200 330,212.5 323.75,219.38 316.25,227.5 307.5,236.88 298.12,238.75 295,243.75 287.5,248.75 280,252.5 273.12,258.75 266.25,262.5 256,265 249.5,264.5 240,265 235,266.25 227.5,271.25 221.25,276.25 216.25,280 212.5,281.25 207.5,285.62 203.75,290 200,294.38 193.75,296.88 187.5,298.12 182.5,302.5 180,308.75 179.38,315 177.5,322.5 175,330 171.25,337.5 169.38,341.25 166.88,348.75 166.5,360 165.62,372.5 165.62,381.25 163.75,390 160.62,397.5 157.5,407.5 155,412.5 153.75,417.5 151.25,420 149.38,425 148.75,435 146.25,443.75 144.38,453.75 143.12,460 134.38,462.5 40,462.5 40,-30 416,-30" fill="rgb(255,138,0)" />
<polygon points="416.25,55.5 412.5,65 402.5,72.5 387.5,76.25 370,82.5 355,87.5 347.5,95 346.25,105 348.75,120 346.25,135 342.5,150 340,160 343,168 349,165 355,161.9 360,160.6 363.75,163.75 365,170 360,177.5 350,187.5 338.75,200 330,212.5 323.75,219.38 316.25,227.5 307.5,236.88 298.12,238.75 295,243.75 287.5,248.75 280,252.5 273.12,258.75 266.25,262.5 256,265 249.5,264.5 240,265 235,266.25 227.5,271.25 221.25,276.25 216.25,280 212.5,281.25 207.5,285.62 203.75,290 200,294.38 193.75,296.88 187.5,298.12 182.5,302.5 180,308.75 179.38,315 177.5,322.5 175,330 171.25,337.5 169.38,341.25 166.88,348.75 166.5,360 165.62,372.5 165.62,381.25 163.75,390 160.62,397.5 157.5,407.5 155,412.5 153.75,417.5 151.25,420 149.38,425 148.75,435 146.25,443.75 144.38,453.75 143.12,460 134.38,462.5 40,462.5 40,-30 416,-30" fill="rgb(255,172,0)" filter="url(#ero4)"/>
<polygon points="298,166 314,178 324,188 325,200 318,214 308,227 300,236 297,236" fill="rgb(255,190,0)" />
<polygon points="401.25,55.5 392.5,65 380,68.75 362.5,75 350,82.5 340,90 336.25,97.5 336.25,112.5 333.75,127.5 328.75,142.5 325,152.5 326.88,148.75 325,155 320,161.25 315,162.5 310.62,161.25 307.5,157.5 305,151.25 303.75,146.25 280,146 280,30 401,30" fill="rgb(255,205,0)" stroke="rgb(255,205,0)" stroke-width="6"/>
<polygon points="401.25,55.5 392.5,65 380,68.75 362.5,75 350,82.5 340,90 336.25,97.5 336.25,112.5 333.75,127.5 328.75,142.5 325,152.5 326.88,148.75 325,155 320,161.25 315,162.5 310.62,161.25 307.5,157.5 305,151.25 303.75,146.25 280,146 280,30 401,30" fill="rgb(255,224,0)" />
<polygon points="392,30 392,58 375,66 358,75 345,84 336,92 330,100 328,112 326,127 321,138 316,146 310,146 306,140 280,140 280,30" fill="rgb(255,248,0)" />
<polygon points="325,80 335,82 345,77.5 357.5,71 370,64 382,59 387,55.5 387,30 280,30 280,80" fill="rgb(210,248,35)" />
<polygon points="297.5,180 299.4,180 302.5,185 303,191 302,198 300,201 298.5,205 298,221 297.5,237 296.3,221 297,200" fill="rgb(255,225,0)" />
<polygon points="297.25,161.25 297.25,190 296.88,202.5 296.25,221.25 295.62,235 291.25,240.62 283.75,245.62 273.75,248.12 261.25,250 248.75,251.88 236.25,253.75 232.5,258.75 225,263.75 217.5,268.75 210,274.38 203.75,280 200,283.75 193.75,287.5 185,290 178.75,294.38 175,300 173.75,306.25 173.12,312.5 171.25,320 168.12,328.75 165,335 163.12,340 160,348.75 159.75,360 158.75,371.25 159.75,377.5 158.75,383.75 155.62,390 152.5,396.88 149.38,401.88 146.25,405.62 100,405.6 100,161" fill="rgb(255,244,0)" stroke="rgb(255,205,0)" stroke-width="2"/>
<polygon points="140,392 156,388 153,397 148,404 146,408 140,408" fill="rgb(255,200,0)" />
<polygon points="295.38,161.25 295.38,190 295,221.25 293.75,233.12 290,238.12 282.5,242.5 273.75,244.38 261.25,246.25 248.75,247.5 237.5,248.75 230,251.25 221.25,258.12 215,263.12 207.5,268.75 198.75,275 192.5,280 187.5,283.75 180,288.12 175,292.5 171.25,298.12 169.38,303.75 166.88,311.25 163.75,318.75 160,326.25 156.25,332.5 153.75,336.88 153.12,340 151.25,345.62 100,345.6 100,161" fill="rgb(195,255,60)" />
<polygon points="293.75,161.25 293.75,190 293.12,202.5 292.88,221.25 291.88,231.25 287.5,236.25 280,239.38 267.5,241.25 255,242.5 242.5,243.12 236.25,243.75 230,245.62 227.5,248.12 217.5,253.12 207.5,258.75 195.62,263.5 188.75,270 181.25,277.5 181.25,281.25 175,285.62 168.75,290 163.75,295.62 160.62,300 156,300 155,318 153,335 100,335 100,161" fill="rgb(120,255,135)" />
<polygon points="292.12,161.25 292.12,190 291.5,202.5 291.25,221.25 290,228.75 285,233.12 280,235.62 267.5,236.88 253.75,237.5 240,236.25 230,238.12 220,240 212.5,244.38 203.12,250 195,254 186,259 100,259 100,161" fill="rgb(45,255,210)" />
<polygon points="290.62,161.25 290.75,190 290.5,215 288.75,221.25 285,227.5 280,230.62 271.25,231.25 265,230.62 258.75,229.38 258.75,215 100,215 100,161" fill="rgb(0,215,255)" />
</g>
<rect x="290.6" y="160.6" width="1.80" height="58" fill="rgb(20,150,255)"/>
<rect x="292.1" y="160.6" width="2.00" height="58" fill="rgb(30,235,235)"/>
<rect x="293.8" y="160.6" width="1.90" height="58" fill="rgb(110,255,145)"/>
<rect x="295.4" y="160.6" width="2.10" height="58" fill="rgb(205,255,50)"/>
<rect x="297.2" y="160.6" width="1.50" height="58" fill="rgb(255,225,0)"/>
<polygon points="60,20 358.75,56 358.75,63.1 350,63.1 350,71.25 333.1,71.25 333.1,79.4 324.4,79.4 324.4,86.25 315.6,86.25 315.6,93.1 306.9,93.1 306.9,145.6 298,145.6 298,160.6 290.6,160.6 290.6,221 281,221 281,228.75 229,228.75 229,237.25 212.25,237.25 212.25,244.4 203,244.4 203,252 186.25,252 186.25,259 177.5,259 177.5,273.75 169,273.75 169,288.75 160,288.75 160,303.75 151.25,303.75 151.25,387 143,387 143,410 134,410 134,433 143,433 143,455 134,455 134,469.4 125,469.4 60,469.4" fill="#fff" />
<line x1="194.5" y1="59.0" x2="194.5" y2="562.0" stroke="#b4b4b4" stroke-width="1" stroke-dasharray="2 4.5"/>
<line x1="265.5" y1="59.0" x2="265.5" y2="562.0" stroke="#b4b4b4" stroke-width="1" stroke-dasharray="2 4.5"/>
<line x1="336.5" y1="59.0" x2="336.5" y2="562.0" stroke="#b4b4b4" stroke-width="1" stroke-dasharray="2 4.5"/>
<line x1="407.5" y1="59.0" x2="407.5" y2="562.0" stroke="#b4b4b4" stroke-width="1" stroke-dasharray="2 4.5"/>
<line x1="477.5" y1="59.0" x2="477.5" y2="562.0" stroke="#b4b4b4" stroke-width="1" stroke-dasharray="2 4.5"/>
<line x1="548.5" y1="59.0" x2="548.5" y2="562.0" stroke="#b4b4b4" stroke-width="1" stroke-dasharray="2 4.5"/>
<line x1="619.5" y1="59.0" x2="619.5" y2="562.0" stroke="#b4b4b4" stroke-width="1" stroke-dasharray="2 4.5"/>
<line x1="130.0" y1="106.5" x2="674.0" y2="106.5" stroke="#b4b4b4" stroke-width="1" stroke-dasharray="2 4.5"/>
<line x1="130.0" y1="191.5" x2="674.0" y2="191.5" stroke="#b4b4b4" stroke-width="1" stroke-dasharray="2 4.5"/>
<line x1="130.0" y1="276.5" x2="674.0" y2="276.5" stroke="#b4b4b4" stroke-width="1" stroke-dasharray="2 4.5"/>
<line x1="130.0" y1="360.5" x2="674.0" y2="360.5" stroke="#b4b4b4" stroke-width="1" stroke-dasharray="2 4.5"/>
<line x1="130.0" y1="445.5" x2="674.0" y2="445.5" stroke="#b4b4b4" stroke-width="1" stroke-dasharray="2 4.5"/>
<line x1="130.0" y1="530.5" x2="674.0" y2="530.5" stroke="#b4b4b4" stroke-width="1" stroke-dasharray="2 4.5"/>
<g stroke-linecap="round">
<polyline points="297.25,161.25 297.25,190 296.88,202.5 296.25,221.25 295.62,235" fill="none" stroke="#000" stroke-width="0.75" stroke-linejoin="round" />
<polyline points="295.62,235 291.25,240.62 283.75,245.62 273.75,248.12 261.25,250 248.75,251.88 236.25,253.75 232.5,258.75 225,263.75 217.5,268.75 210,274.38 203.75,280 200,283.75 193.75,287.5 185,290 178.75,294.38 175,300 173.75,306.25 173.12,312.5 171.25,320 168.12,328.75 165,335 163.12,340 160,348.75 159.75,360 158.75,371.25 159.75,377.5 158.75,383.75 155.62,390 152.5,396.88 149.38,401.88 146.25,405.62" fill="none" stroke="#000" stroke-width="1.15" stroke-linejoin="round" />
<polyline points="295.38,161.25 295.38,190 295,221.25 293.75,233.12" fill="none" stroke="#000" stroke-width="0.75" stroke-linejoin="round" />
<polyline points="293.75,233.12 290,238.12 282.5,242.5 273.75,244.38 261.25,246.25 248.75,247.5 237.5,248.75 230,251.25 221.25,258.12 215,263.12 207.5,268.75 198.75,275 192.5,280 187.5,283.75 180,288.12 175,292.5 171.25,298.12 169.38,303.75 166.88,311.25 163.75,318.75 160,326.25 156.25,332.5 153.75,336.88 153.12,340 151.25,345.62" fill="none" stroke="#000" stroke-width="1.15" stroke-linejoin="round" />
<polyline points="293.75,161.25 293.75,190 293.12,202.5 292.88,221.25 291.88,231.25" fill="none" stroke="#000" stroke-width="0.75" stroke-linejoin="round" />
<polyline points="291.88,231.25 287.5,236.25 280,239.38 267.5,241.25 255,242.5 242.5,243.12 236.25,243.75 230,245.62 227.5,248.12 217.5,253.12 207.5,258.75 195.62,263.5 188.75,270 181.25,277.5 181.25,281.25 175,285.62 168.75,290 163.75,295.62 160.62,300" fill="none" stroke="#000" stroke-width="1.15" stroke-linejoin="round" />
<polyline points="292.12,161.25 292.12,190 291.5,202.5 291.25,221.25 290,228.75" fill="none" stroke="#000" stroke-width="0.75" stroke-linejoin="round" />
<polyline points="290,228.75 285,233.12 280,235.62 267.5,236.88 253.75,237.5 240,236.25 230,238.12 220,240 212.5,244.38 203.12,250 195,254 186,259" fill="none" stroke="#000" stroke-width="1.15" stroke-linejoin="round" />
<polyline points="440,55.5 435,62.5 433.75,72.5 430,82.5 420,91.25 407.5,96.25 392.5,98.75 385,102.5 383.75,108.75 388.75,113.75 400,120 407.5,125 408.75,135 405,145 400,155 396.25,167.5 402.5,172.5 409.5,170 425,168.75 437.5,166.25 447.5,168.75 457.5,172.5 470,175 477.5,177.5 481.25,183.75 477.5,192.5 473.75,200 465,200 455,205 445,211.25 435,217.5 427.5,225 422.5,231.25 416.25,236.25 413.75,243.75 410,252.5 406.25,258.75 397.5,265 390,268 380,271.25 365,273.75 352.5,275 346.25,280 341.25,285 335,292.5 328.75,298.75 320,303.75 307.5,303.75 300.5,303.75 292.5,302.5 285,298 278.75,297.5 272.5,300 267.5,307.5 260,316.25 250,322.5 240,326.25 232.5,330 228.75,336.25 230,345 231.25,350 227.5,356.25 222.5,361.25 215,365 210,370 207.5,377.5 203.75,386.25 197.5,393.75 190,398.75 181.25,403.75 173.75,408.75 168.75,416.25 165,425 162.5,432.5 160,441.25 158.75,450 158.75,457.5 157.5,465 156.25,470 151.25,475 146.25,483.75 139.38,490 136.25,498.75 133.75,506.25 129.38,513.12 125,518.75" fill="none" stroke="#000" stroke-width="1.15" stroke-linejoin="round" />
<polyline points="422.5,55.5 420,65 415,75 405,82.5 390,87.5 370,92.5 360,100 358.75,108.75 362.5,117.5 367.5,122.5 377.5,123.75 386.25,130 386.25,150 385,162.5 380,172.5 370,182.5 361.25,191.25 355,200 330,230 320,238.75 307.5,250 295,256.25 290,262.5 287.5,265 283,269 272,275 258,281 247,285 235,288 220,295.62 215,299.38 210,303.75 206.25,307.5 200,309 195,309.38 191.25,312.5 187.5,316.25 185.62,322.5 183.75,328.75 180,335 176.88,340 175.62,343.75 174.75,350 174.75,366.25 173.12,375 171.25,385 169.38,393.75 166.88,402.5 165,407.5 162.5,413.75 158.75,420 156.88,425 156.25,435 154.38,445 153.75,452.5 150,460 146.25,467.5 143.12,475 137.5,480 131.25,484.38 125,485.62" fill="none" stroke="#000" stroke-width="1.15" stroke-linejoin="round" />
<polyline points="416.25,55.5 412.5,65 402.5,72.5 387.5,76.25 370,82.5 355,87.5 347.5,95 346.25,105 348.75,120 346.25,135 342.5,150 340,160 343,168 349,165 355,161.9 360,160.6 363.75,163.75 365,170 360,177.5 350,187.5 338.75,200 330,212.5 323.75,219.38 316.25,227.5 307.5,236.88 298.12,238.75 295,243.75 287.5,248.75 280,252.5 273.12,258.75 266.25,262.5 256,265 249.5,264.5 240,265 235,266.25 227.5,271.25 221.25,276.25 216.25,280 212.5,281.25 207.5,285.62 203.75,290 200,294.38 193.75,296.88 187.5,298.12 182.5,302.5 180,308.75 179.38,315 177.5,322.5 175,330 171.25,337.5 169.38,341.25 166.88,348.75 166.5,360 165.62,372.5 165.62,381.25 163.75,390 160.62,397.5 157.5,407.5 155,412.5 153.75,417.5 151.25,420 149.38,425 148.75,435 146.25,443.75 144.38,453.75 143.12,460 134.38,462.5" fill="none" stroke="#000" stroke-width="1.15" stroke-linejoin="round" />
<polyline points="401.25,55.5 392.5,65 380,68.75 362.5,75 350,82.5 340,90 336.25,97.5 336.25,112.5 333.75,127.5 328.75,142.5 325,152.5 326.88,148.75 325,155 320,161.25 315,162.5 310.62,161.25 307.5,157.5 305,151.25 303.75,146.25" fill="none" stroke="#000" stroke-width="1.15" stroke-linejoin="round" />
<polyline points="325,80 335,82 345,77.5 357.5,71 370,64 382,59 387,55.5" fill="none" stroke="#000" stroke-width="1.15" stroke-linejoin="round" />
<polyline points="290.75,190 290.5,215 288.75,221.25 285,227.5 280,230.62 271.25,231.25 265,230.62 258.75,229.38" fill="none" stroke="#000" stroke-width="1.15" stroke-linejoin="round" />
<polyline points="673.75,148.75 671.25,143.75 670,132.5 668.75,122.5 665,115 660,110 652.5,108.75 646.25,112.5 635,117 625,121.25 621.25,125 620,132.5 616.25,138.75 616.25,145 610,152.5 602.5,160 595,168.75 587.5,177.5 583.75,185 585,192.5 587.5,200 591.25,200 600,203.75 607.5,204.5 620,202 627.5,200 645,192.5 662.5,186.25 673.75,182" fill="none" stroke="#000" stroke-width="1.15" stroke-linejoin="round" />
<polyline points="545,56.25 552.5,61.25 565,67.5 580,72 602.5,72 615,68 630,65 650,63.75 662.5,65 673.75,67.5" fill="none" stroke="#000" stroke-width="1.15" stroke-linejoin="round" />
<polyline points="673.75,226.25 660,230 645,235 636.25,237.5 642.5,240 647.5,243.75 648.75,250 647.5,258.75 655,262.5 661.25,268.75 666.25,276.25 665,287.5 661.25,297.5 655,307.5 642.5,317.5 630,323.75 620,328.75 605,332.5 592.5,333.75 581.25,331.25 567.5,327.5 557.5,322.5 552,318.75 557.5,312.5 552.5,311.25 540,313.75 520,319.5 507.5,322.5 495,326.25 482.5,331.25 470,336.25 457.5,341.25 450,350 440,361.25 427.5,372.5 415,381.25 407.5,388.75 400,397.5 392.5,405 382.5,413.75 370,421.25 360,425 345,428.75 335,431.25 326.25,436.25 320,440 312.5,448.75 305,460 297.5,470 290,477.5 285,482.5 272.5,485.5 261.25,485 250,483.75 240,485 232.5,488.75 226.25,495 224.5,500.5 225,508 227.5,518 231.25,529.25 235,540.5 237.5,550.5 235,555.5 228.75,557.5 220,554.25 210,548 203.75,544.25 201.25,546.75 206.25,553 211.25,559.25 214.5,563.5" fill="none" stroke="#000" stroke-width="1.15" stroke-linejoin="round" />
<polyline points="313.75,563.5 311.25,556.75 305,553 295,550.5 280,550 276.25,545.5 278.75,540.5 285,536 295,532.5 307.5,530 320,528 330,528.75 342,527.5 353.75,524.25 367.5,521.75 372,515.5 371.25,505.5 365,495.5 357.5,488 351.25,483 348,478 351.25,471.75 360,468.75 370,468 385,467 402.5,463.75 420,460 430,456.25 440,452 450,446.25 462.5,440.5 477.5,433.75 490,433 497.5,430.5 510,430 527,431.25 535,432 543.75,435 550,440 555,447.5 558.75,457.5 559.5,470 558,485 555,495 558.75,478 557.5,488 555,495.5 550,505.5 542.5,514.25 535,519.25 527.5,521.75 520,522.5 512.5,523 520,533.5 527.5,538 537.5,545.5 545,553 552.5,559.25 557,563.5" fill="none" stroke="#000" stroke-width="1.15" stroke-linejoin="round" />
<polyline points="623.75,563.5 625,559.25 630,553 637.5,545.5 640,538 647.5,529.25 655,519.25 657.5,510.5 656.25,500.5 650,491.75 642.5,483 638.75,475.5 637.5,470 641.25,460 646.25,450 648,440 649.5,427.5 648.75,418.75 642.5,412.5 632.5,406.25 622.5,400 612.5,392.5 606.25,385 603.75,377.5 605,371.25 610,367.5 620,366.25 630,368.75 645,373.75 660,381.25 673.75,389.5" fill="none" stroke="#000" stroke-width="1.15" stroke-linejoin="round" />
<polygon points="537,243 548.75,241.25 560.5,243 577.5,241.25 600,243.75 612.5,248.75 625,253.75 633.75,259.5 633.75,268.75 627.5,276.25 618.75,281.25 602.5,286.25 593.75,283.75 591.25,277.5 586.25,271.25 575,266.25 560,263.75 552.5,267 545,273.75 536.25,277.5 531.25,273.75 530,265 532.5,256.25" fill="none" stroke="#000" stroke-width="1.15" stroke-linejoin="round" />
<polygon points="407.5,490.5 415,491 417.5,494.25 413.75,500.5 408.75,508 412.5,513 420,516.75 425,516.75 448.75,518 457.5,521.75 462,523.5 455,528 445,531 432.5,533.5 420,535 410,532.5 401.25,528 393.75,520.5 390,511.75 390,503 393.75,496.75 400,492.25" fill="none" stroke="#000" stroke-width="1.15" stroke-linejoin="round" />
<polygon points="236.25,418 240,411.25 246.25,407.5 255,406.25 256.25,411.25 252.5,416.25 245,418.75" fill="none" stroke="#000" stroke-width="1.15" stroke-linejoin="round" />
<polygon points="182.88,443.41 182.97,446.36 182.6,449 181.82,451.01 180.72,452.16 179.45,452.29 178.14,451.4 176.96,449.59 176.05,447.09 175.52,444.19 175.43,441.24 175.8,438.6 176.58,436.59 177.68,435.44 178.95,435.31 180.26,436.2 181.44,438.01 182.35,440.51" fill="none" stroke="#000" stroke-width="1.15" stroke-linejoin="round" />
<polygon points="174.69,465.77 174.63,469.48 174.05,472.76 173.04,475.23 171.7,476.58 170.21,476.66 168.74,475.45 167.47,473.1 166.56,469.9 166.11,466.23 166.17,462.52 166.75,459.24 167.76,456.77 169.1,455.42 170.59,455.34 172.06,456.55 173.33,458.9 174.24,462.1" fill="none" stroke="#000" stroke-width="1.15" stroke-linejoin="round" />
<polygon points="133,549 134,543 138,538 144,536.4 152,538.4 146,542.4 139,546" fill="none" stroke="#000" stroke-width="1.15" stroke-linejoin="round" />
<polyline points="147,563.5 150,558 156,553 157,546 161,540 168,545 176,550 182,557 187,563.5" fill="none" stroke="#000" stroke-width="1.15" stroke-linejoin="round" />
<polyline points="299.4,180 302.5,185 303,191 302,198 300,201 298.5,205 298,221 297.5,237" fill="none" stroke="#000" stroke-width="1" stroke-linejoin="round" />
</g>
<polyline points="125,145 132.5,148 142.5,149.5 148.75,152 157.5,152 165,150.5 163.75,146.25 161.25,145 171.25,136.25 177.5,140.5 183.75,143.75 188.75,142 192.5,136.25 202.5,131.25 215,127.5 222.5,121.25 230,118.75 238.75,116.25 245,117.5 252.5,116.25 260,118.75 270,121.25 280,126.25 286.25,132.5 290,140 291.25,148.75 290,155 283.75,156.25 286.25,161.25 291.25,163.75 290,170 287.5,175 287,184 287,192.5 285,197.5 283.75,206 282,215 277.5,220 272.5,222.5 263.75,222.75 252.5,224.4 242.5,225.6 230,226.25 225,226.5 216.25,227.5 216.25,220 210,218.75 202.5,215 200.5,207.5 202.5,200 207.5,195.5 200,191.25 191.25,189.5 183.75,195 178.75,200 177,207.5 182.5,216.25 187,223.75 185.5,230 178.75,232.5 171.25,235 167.5,241.25 165.5,250 168.75,252.5 177.5,248.75 182.5,243.75 188.75,241.25 193,245 192.5,246.25 182.5,256.25 170,261.25 162.5,266.25 160,281.25 177.5,262.5 182.5,257.5 178.75,265 175,272.5 170,277 162.5,282.5 157.5,288 153.75,295 151.9,301.25 149.4,304 145,305 143,308 142.5,313.75 144.4,320 146.25,326.25 148,330 144.4,333 142.5,335.6 144.4,340 146.25,347.5 147.5,355 148,361.25 146.9,366.25 143.75,372.5 141.25,378.75 138.75,386.25 135.6,392.5 135,397.5 135.6,403 135,418.75 135.6,431.25 138.75,436.9 137.5,442.5 132.5,451.25 125,460" fill="none" stroke="#000" stroke-width="3.3" stroke-linejoin="round" />
<polyline points="135.6,403.3 132.5,403.5 127.5,404.4 125,404.4" fill="none" stroke="#000" stroke-width="3.3" stroke-linejoin="round" />
<polyline points="191.25,234.4 208,228.75 210,230.6 195,241.25 191.25,234.4" fill="none" stroke="#000" stroke-width="3.3" stroke-linejoin="round" />
<polyline points="350,55.6 341,62.5 334,67.5 326,73 319,77 314,80.6 307.5,84.4 301,88 295,93 289,99 284,104 280,109 282,112.5 285,115.6 289,111 293,114 296,115 300.6,113 301,117.5 300,125 300,132.5 302.5,137.5 301.25,147.5 295,155 290,155.5" fill="none" stroke="#000" stroke-width="3.3" stroke-linejoin="round" />
<polyline points="285,55.6 284,64 282,73 279,77 279,86 279.4,91 281,97 285,99 290,98 295,93" fill="none" stroke="#000" stroke-width="3.3" stroke-linejoin="round" />
<polyline points="291,55.6 291,64 292.5,71 296,77 298,81 298,86 300.6,87.5" fill="none" stroke="#000" stroke-width="3.3" stroke-linejoin="round" />
<polyline points="313.75,79 312,75 309,72 311,66 315,63 321,61 325,65 328,60 329,56" fill="none" stroke="#000" stroke-width="3.3" stroke-linejoin="round" />
<polyline points="328,60 330,62 331.5,59 331,56" fill="none" stroke="#000" stroke-width="3.3" stroke-linejoin="round" />
<rect x="646" y="102.8" width="14.2" height="12" fill="#fff"/>
<text x="653.1" y="113.89999999999999" font-size="12.4" text-anchor="middle" textLength="11.0" lengthAdjust="spacingAndGlyphs">18</text>
<rect x="304" y="162" width="24" height="12" fill="#fff"/>
<text x="316.0" y="173.1" font-size="12.4" text-anchor="middle" textLength="20.8" lengthAdjust="spacingAndGlyphs">16.5</text>
<rect x="335" y="163" width="14.2" height="12" fill="#fff"/>
<text x="342.1" y="174.1" font-size="12.4" text-anchor="middle" textLength="11.0" lengthAdjust="spacingAndGlyphs">17</text>
<rect x="395.8" y="167.2" width="14.2" height="12" fill="#fff"/>
<text x="402.90000000000003" y="178.29999999999998" font-size="12.4" text-anchor="middle" textLength="11.0" lengthAdjust="spacingAndGlyphs">18</text>
<rect x="240" y="229.7" width="14.2" height="12" fill="#fff"/>
<text x="247.1" y="240.79999999999998" font-size="12.4" text-anchor="middle" textLength="11.0" lengthAdjust="spacingAndGlyphs">15</text>
<rect x="249" y="258" width="14.2" height="12" fill="#fff"/>
<text x="256.1" y="269.1" font-size="12.4" text-anchor="middle" textLength="11.0" lengthAdjust="spacingAndGlyphs">17</text>
<rect x="234.8" y="277.7" width="24.3" height="12" fill="#fff"/>
<text x="246.95000000000002" y="288.8" font-size="12.4" text-anchor="middle" textLength="21.1" lengthAdjust="spacingAndGlyphs">17.5</text>
<rect x="300" y="297.8" width="14.2" height="12" fill="#fff"/>
<text x="307.1" y="308.90000000000003" font-size="12.4" text-anchor="middle" textLength="11.0" lengthAdjust="spacingAndGlyphs">18</text>
<rect x="537" y="232.2" width="24" height="12" fill="#fff"/>
<text x="549.0" y="243.29999999999998" font-size="12.4" text-anchor="middle" textLength="20.8" lengthAdjust="spacingAndGlyphs">18.5</text>
<rect x="581" y="328.4" width="24" height="12" fill="#fff"/>
<text x="593.0" y="339.5" font-size="12.4" text-anchor="middle" textLength="20.8" lengthAdjust="spacingAndGlyphs">18.5</text>
<rect x="133" y="405.6" width="21.6" height="12" fill="#fff"/>
<text x="143.8" y="416.70000000000005" font-size="12.4" text-anchor="middle" textLength="18.400000000000002" lengthAdjust="spacingAndGlyphs">16.5</text>
<rect x="503" y="422.8" width="24" height="12" fill="#fff"/>
<text x="515.0" y="433.90000000000003" font-size="12.4" text-anchor="middle" textLength="20.8" lengthAdjust="spacingAndGlyphs">18.5</text>
<rect x="261" y="481" width="24" height="12" fill="#fff"/>
<text x="273.0" y="492.1" font-size="12.4" text-anchor="middle" textLength="20.8" lengthAdjust="spacingAndGlyphs">16.5</text>
<rect x="330" y="522.4" width="24" height="12" fill="#fff"/>
<text x="342.0" y="533.5" font-size="12.4" text-anchor="middle" textLength="20.8" lengthAdjust="spacingAndGlyphs">18.5</text>
<rect x="425" y="509.6" width="24" height="12" fill="#fff"/>
<text x="437.0" y="520.7" font-size="12.4" text-anchor="middle" textLength="20.8" lengthAdjust="spacingAndGlyphs">18.5</text>
</g>
<text x="146.5" y="110" font-size="19" textLength="12" lengthAdjust="spacingAndGlyphs" fill="#111" stroke="#fff" stroke-width="0.4">Z</text>
<text x="174.6" y="110" font-size="19" textLength="15.8" lengthAdjust="spacingAndGlyphs" fill="#111" stroke="#fff" stroke-width="0.4">=</text>
<text x="206" y="110" font-size="19" textLength="35" lengthAdjust="spacingAndGlyphs" fill="#111" stroke="#fff" stroke-width="0.4">2.5</text>
<text x="255.2" y="110" font-size="19" textLength="19.5" lengthAdjust="spacingAndGlyphs" fill="#111" stroke="#fff" stroke-width="0.4">m</text>
<rect x="124.3" y="55.2" width="550.9000000000001" height="508.00000000000006" fill="none" stroke="#000" stroke-width="2.6"/>
<line x1="124.5" y1="564" x2="124.5" y2="567" stroke="#000" stroke-width="1"/>
<line x1="194.5" y1="564" x2="194.5" y2="567" stroke="#000" stroke-width="1"/>
<line x1="265.5" y1="564" x2="265.5" y2="567" stroke="#000" stroke-width="1"/>
<line x1="336.5" y1="564" x2="336.5" y2="567" stroke="#000" stroke-width="1"/>
<line x1="407.5" y1="564" x2="407.5" y2="567" stroke="#000" stroke-width="1"/>
<line x1="477.5" y1="564" x2="477.5" y2="567" stroke="#000" stroke-width="1"/>
<line x1="548.5" y1="564" x2="548.5" y2="567" stroke="#000" stroke-width="1"/>
<line x1="619.5" y1="564" x2="619.5" y2="567" stroke="#000" stroke-width="1"/>
<line x1="119" y1="106.5" x2="123" y2="106.5" stroke="#000" stroke-width="1"/>
<line x1="119" y1="191.5" x2="123" y2="191.5" stroke="#000" stroke-width="1"/>
<line x1="119" y1="276.5" x2="123" y2="276.5" stroke="#000" stroke-width="1"/>
<line x1="119" y1="360.5" x2="123" y2="360.5" stroke="#000" stroke-width="1"/>
<line x1="119" y1="445.5" x2="123" y2="445.5" stroke="#000" stroke-width="1"/>
<line x1="119" y1="530.5" x2="123" y2="530.5" stroke="#000" stroke-width="1"/>
<text x="124.7" y="579.2" font-size="11.6" text-anchor="middle" textLength="23.5" lengthAdjust="spacingAndGlyphs">28.5</text>
<text x="194.7" y="579.2" font-size="11.6" text-anchor="middle" textLength="13.5" lengthAdjust="spacingAndGlyphs">29</text>
<text x="265.7" y="579.2" font-size="11.6" text-anchor="middle" textLength="23.5" lengthAdjust="spacingAndGlyphs">29.5</text>
<text x="336.7" y="579.2" font-size="11.6" text-anchor="middle" textLength="13.5" lengthAdjust="spacingAndGlyphs">30</text>
<text x="407.7" y="579.2" font-size="11.6" text-anchor="middle" textLength="23.5" lengthAdjust="spacingAndGlyphs">30.5</text>
<text x="477.7" y="579.2" font-size="11.6" text-anchor="middle" textLength="13.5" lengthAdjust="spacingAndGlyphs">31</text>
<text x="548.7" y="579.2" font-size="11.6" text-anchor="middle" textLength="23.5" lengthAdjust="spacingAndGlyphs">31.5</text>
<text x="619.7" y="579.2" font-size="11.6" text-anchor="middle" textLength="13.5" lengthAdjust="spacingAndGlyphs">32</text>
<text x="117" y="110.4" font-size="11.6" text-anchor="end" textLength="23.5" lengthAdjust="spacingAndGlyphs">45.5</text>
<text x="117" y="195.4" font-size="11.6" text-anchor="end" textLength="13.5" lengthAdjust="spacingAndGlyphs">45</text>
<text x="117" y="280.4" font-size="11.6" text-anchor="end" textLength="23.5" lengthAdjust="spacingAndGlyphs">44.5</text>
<text x="117" y="364.4" font-size="11.6" text-anchor="end" textLength="13.5" lengthAdjust="spacingAndGlyphs">44</text>
<text x="117" y="449.4" font-size="11.6" text-anchor="end" textLength="23.5" lengthAdjust="spacingAndGlyphs">43.5</text>
<text x="117" y="534.4" font-size="11.6" text-anchor="end" textLength="13.5" lengthAdjust="spacingAndGlyphs">43</text>
<text x="74.8" y="43.2" font-size="26" textLength="80.4" lengthAdjust="spacingAndGlyphs" stroke="#fff" stroke-width="0.2">Salinity</text>
<text x="167.8" y="43.2" font-size="26" textLength="64.4" lengthAdjust="spacingAndGlyphs" stroke="#fff" stroke-width="0.2">(ppt).</text>
<text x="244.3" y="43.2" font-size="26" textLength="50.9" lengthAdjust="spacingAndGlyphs" stroke="#fff" stroke-width="0.2">Date</text>
<text x="308.8" y="43.2" font-size="26" textLength="137.4" lengthAdjust="spacingAndGlyphs" stroke="#fff" stroke-width="0.2">2014.02.03.</text>
<text x="459.8" y="43.2" font-size="26" textLength="52.4" lengthAdjust="spacingAndGlyphs" stroke="#fff" stroke-width="0.2">Time</text>
<text x="526.3" y="43.2" font-size="26" textLength="139.9" lengthAdjust="spacingAndGlyphs" stroke="#fff" stroke-width="0.2">00(h):00(m)</text>
<text x="679.8" y="43.2" font-size="26" textLength="46.4" lengthAdjust="spacingAndGlyphs" stroke="#fff" stroke-width="0.2">GMT</text>
<text x="322.55" y="605.8" font-size="19.6" textLength="87.2" lengthAdjust="spacingAndGlyphs" >Langitude</text>
<text x="421.3" y="605.8" font-size="19.6" textLength="54.7" lengthAdjust="spacingAndGlyphs" >(East)</text>
<g transform="translate(81.4,384.09999999999997) rotate(-90)"><text x="0" y="0" font-size="20.8" textLength="72.59999999999998" lengthAdjust="spacingAndGlyphs" >Latitude</text></g>
<g transform="translate(81.4,300.5) rotate(-90)"><text x="0" y="0" font-size="20.8" textLength="64.10000000000001" lengthAdjust="spacingAndGlyphs" >(North)</text></g>
<rect x="708" y="61.00" width="16" height="6.80" fill="rgb(128,0,0)" shape-rendering="crispEdges"/>
<rect x="708" y="67.20" width="16" height="6.80" fill="rgb(128,0,0)" shape-rendering="crispEdges"/>
<rect x="708" y="73.40" width="16" height="6.80" fill="rgb(141,0,0)" shape-rendering="crispEdges"/>
<rect x="708" y="79.60" width="16" height="6.80" fill="rgb(154,0,0)" shape-rendering="crispEdges"/>
<rect x="708" y="85.80" width="16" height="6.80" fill="rgb(167,0,0)" shape-rendering="crispEdges"/>
<rect x="708" y="92.00" width="16" height="6.80" fill="rgb(180,0,0)" shape-rendering="crispEdges"/>
<rect x="708" y="98.20" width="16" height="6.80" fill="rgb(193,0,0)" shape-rendering="crispEdges"/>
<rect x="708" y="104.40" width="16" height="6.80" fill="rgb(206,0,0)" shape-rendering="crispEdges"/>
<rect x="708" y="110.60" width="16" height="6.80" fill="rgb(219,0,0)" shape-rendering="crispEdges"/>
<rect x="708" y="116.80" width="16" height="6.80" fill="rgb(232,0,0)" shape-rendering="crispEdges"/>
<rect x="708" y="123.00" width="16" height="6.80" fill="rgb(245,0,0)" shape-rendering="crispEdges"/>
<rect x="708" y="129.20" width="16" height="6.80" fill="rgb(255,3,0)" shape-rendering="crispEdges"/>
<rect x="708" y="135.40" width="16" height="6.80" fill="rgb(255,16,0)" shape-rendering="crispEdges"/>
<rect x="708" y="141.60" width="16" height="6.80" fill="rgb(255,29,0)" shape-rendering="crispEdges"/>
<rect x="708" y="147.80" width="16" height="6.80" fill="rgb(255,42,0)" shape-rendering="crispEdges"/>
<rect x="708" y="154.00" width="16" height="6.80" fill="rgb(255,56,0)" shape-rendering="crispEdges"/>
<rect x="708" y="160.20" width="16" height="6.80" fill="rgb(255,69,0)" shape-rendering="crispEdges"/>
<rect x="708" y="166.40" width="16" height="6.80" fill="rgb(255,82,0)" shape-rendering="crispEdges"/>
<rect x="708" y="172.60" width="16" height="6.80" fill="rgb(255,95,0)" shape-rendering="crispEdges"/>
<rect x="708" y="178.80" width="16" height="6.80" fill="rgb(255,108,0)" shape-rendering="crispEdges"/>
<rect x="708" y="185.00" width="16" height="6.80" fill="rgb(255,121,0)" shape-rendering="crispEdges"/>
<rect x="708" y="191.20" width="16" height="6.80" fill="rgb(255,134,0)" shape-rendering="crispEdges"/>
<rect x="708" y="197.40" width="16" height="6.80" fill="rgb(255,147,0)" shape-rendering="crispEdges"/>
<rect x="708" y="203.60" width="16" height="6.80" fill="rgb(255,160,0)" shape-rendering="crispEdges"/>
<rect x="708" y="209.80" width="16" height="6.80" fill="rgb(255,173,0)" shape-rendering="crispEdges"/>
<rect x="708" y="216.00" width="16" height="6.80" fill="rgb(255,186,0)" shape-rendering="crispEdges"/>
<rect x="708" y="222.20" width="16" height="6.80" fill="rgb(255,199,0)" shape-rendering="crispEdges"/>
<rect x="708" y="228.40" width="16" height="6.80" fill="rgb(255,212,0)" shape-rendering="crispEdges"/>
<rect x="708" y="234.60" width="16" height="6.80" fill="rgb(255,226,0)" shape-rendering="crispEdges"/>
<rect x="708" y="240.80" width="16" height="6.80" fill="rgb(255,239,0)" shape-rendering="crispEdges"/>
<rect x="708" y="247.00" width="16" height="6.80" fill="rgb(255,252,0)" shape-rendering="crispEdges"/>
<rect x="708" y="253.20" width="16" height="6.80" fill="rgb(245,255,10)" shape-rendering="crispEdges"/>
<rect x="708" y="259.40" width="16" height="6.80" fill="rgb(232,255,23)" shape-rendering="crispEdges"/>
<rect x="708" y="265.60" width="16" height="6.80" fill="rgb(219,255,36)" shape-rendering="crispEdges"/>
<rect x="708" y="271.80" width="16" height="6.80" fill="rgb(206,255,49)" shape-rendering="crispEdges"/>
<rect x="708" y="278.00" width="16" height="6.80" fill="rgb(193,255,62)" shape-rendering="crispEdges"/>
<rect x="708" y="284.20" width="16" height="6.80" fill="rgb(180,255,75)" shape-rendering="crispEdges"/>
<rect x="708" y="290.40" width="16" height="6.80" fill="rgb(167,255,88)" shape-rendering="crispEdges"/>
<rect x="708" y="296.60" width="16" height="6.80" fill="rgb(154,255,101)" shape-rendering="crispEdges"/>
<rect x="708" y="302.80" width="16" height="6.80" fill="rgb(141,255,114)" shape-rendering="crispEdges"/>
<rect x="708" y="309.00" width="16" height="6.80" fill="rgb(128,255,128)" shape-rendering="crispEdges"/>
<rect x="708" y="315.20" width="16" height="6.80" fill="rgb(114,255,141)" shape-rendering="crispEdges"/>
<rect x="708" y="321.40" width="16" height="6.80" fill="rgb(101,255,154)" shape-rendering="crispEdges"/>
<rect x="708" y="327.60" width="16" height="6.80" fill="rgb(88,255,167)" shape-rendering="crispEdges"/>
<rect x="708" y="333.80" width="16" height="6.80" fill="rgb(75,255,180)" shape-rendering="crispEdges"/>
<rect x="708" y="340.00" width="16" height="6.80" fill="rgb(62,255,193)" shape-rendering="crispEdges"/>
<rect x="708" y="346.20" width="16" height="6.80" fill="rgb(49,255,206)" shape-rendering="crispEdges"/>
<rect x="708" y="352.40" width="16" height="6.80" fill="rgb(36,255,219)" shape-rendering="crispEdges"/>
<rect x="708" y="358.60" width="16" height="6.80" fill="rgb(23,255,232)" shape-rendering="crispEdges"/>
<rect x="708" y="364.80" width="16" height="6.80" fill="rgb(10,255,245)" shape-rendering="crispEdges"/>
<rect x="708" y="371.00" width="16" height="6.80" fill="rgb(0,252,255)" shape-rendering="crispEdges"/>
<rect x="708" y="377.20" width="16" height="6.80" fill="rgb(0,239,255)" shape-rendering="crispEdges"/>
<rect x="708" y="383.40" width="16" height="6.80" fill="rgb(0,226,255)" shape-rendering="crispEdges"/>
<rect x="708" y="389.60" width="16" height="6.80" fill="rgb(0,213,255)" shape-rendering="crispEdges"/>
<rect x="708" y="395.80" width="16" height="6.80" fill="rgb(0,199,255)" shape-rendering="crispEdges"/>
<rect x="708" y="402.00" width="16" height="6.80" fill="rgb(0,186,255)" shape-rendering="crispEdges"/>
<rect x="708" y="408.20" width="16" height="6.80" fill="rgb(0,173,255)" shape-rendering="crispEdges"/>
<rect x="708" y="414.40" width="16" height="6.80" fill="rgb(0,160,255)" shape-rendering="crispEdges"/>
<rect x="708" y="420.60" width="16" height="6.80" fill="rgb(0,147,255)" shape-rendering="crispEdges"/>
<rect x="708" y="426.80" width="16" height="6.80" fill="rgb(0,134,255)" shape-rendering="crispEdges"/>
<rect x="708" y="433.00" width="16" height="6.80" fill="rgb(0,121,255)" shape-rendering="crispEdges"/>
<rect x="708" y="439.20" width="16" height="6.80" fill="rgb(0,108,255)" shape-rendering="crispEdges"/>
<rect x="708" y="445.40" width="16" height="6.80" fill="rgb(0,95,255)" shape-rendering="crispEdges"/>
<rect x="708" y="451.60" width="16" height="6.80" fill="rgb(0,82,255)" shape-rendering="crispEdges"/>
<rect x="708" y="457.80" width="16" height="6.80" fill="rgb(0,69,255)" shape-rendering="crispEdges"/>
<rect x="708" y="464.00" width="16" height="6.80" fill="rgb(0,56,255)" shape-rendering="crispEdges"/>
<rect x="708" y="470.20" width="16" height="6.80" fill="rgb(0,42,255)" shape-rendering="crispEdges"/>
<rect x="708" y="476.40" width="16" height="6.80" fill="rgb(0,29,255)" shape-rendering="crispEdges"/>
<rect x="708" y="482.60" width="16" height="6.80" fill="rgb(0,16,255)" shape-rendering="crispEdges"/>
<rect x="708" y="488.80" width="16" height="6.80" fill="rgb(0,3,255)" shape-rendering="crispEdges"/>
<rect x="708" y="495.00" width="16" height="6.80" fill="rgb(0,0,245)" shape-rendering="crispEdges"/>
<rect x="708" y="501.20" width="16" height="6.80" fill="rgb(0,0,232)" shape-rendering="crispEdges"/>
<rect x="708" y="507.40" width="16" height="6.80" fill="rgb(0,0,219)" shape-rendering="crispEdges"/>
<rect x="708" y="513.60" width="16" height="6.80" fill="rgb(0,0,206)" shape-rendering="crispEdges"/>
<rect x="708" y="519.80" width="16" height="6.80" fill="rgb(0,0,193)" shape-rendering="crispEdges"/>
<rect x="708" y="526.00" width="16" height="6.80" fill="rgb(0,0,180)" shape-rendering="crispEdges"/>
<rect x="708" y="532.20" width="16" height="6.80" fill="rgb(0,0,167)" shape-rendering="crispEdges"/>
<rect x="708" y="538.40" width="16" height="6.80" fill="rgb(0,0,154)" shape-rendering="crispEdges"/>
<rect x="708" y="544.60" width="16" height="6.80" fill="rgb(0,0,141)" shape-rendering="crispEdges"/>
<rect x="708" y="550.80" width="16" height="6.80" fill="rgb(0,0,128)" shape-rendering="crispEdges"/>
<text x="735.5" y="74" font-size="14" textLength="28.5" lengthAdjust="spacingAndGlyphs">18.6</text>
<text x="735.5" y="190" font-size="14" textLength="28.5" lengthAdjust="spacingAndGlyphs">17.0</text>
<text x="735.5" y="312" font-size="14" textLength="28.5" lengthAdjust="spacingAndGlyphs">15.3</text>
<text x="735.5" y="434" font-size="14" textLength="28.5" lengthAdjust="spacingAndGlyphs">13.6</text>
<text x="735.5" y="556" font-size="14" textLength="28.5" lengthAdjust="spacingAndGlyphs">11.9</text>
</svg></body></html>
